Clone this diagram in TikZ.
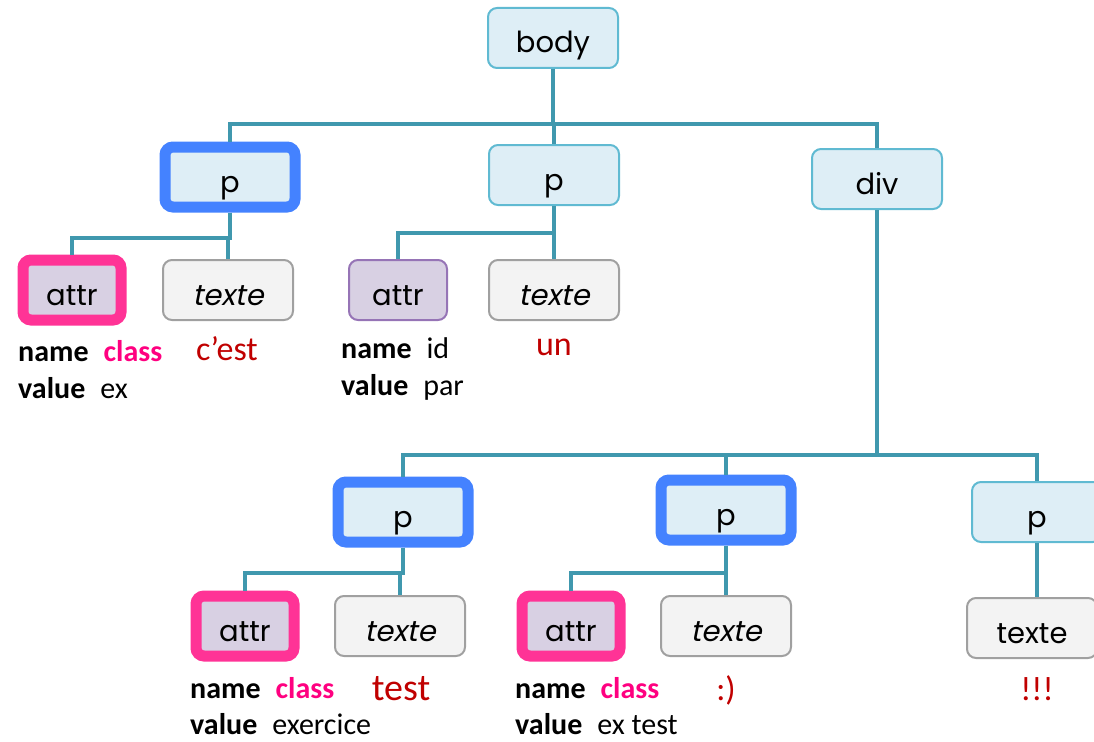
\documentclass[tikz,border=0pt]{standalone}
\usepackage{fontspec}
\usepackage{xcolor}
\setmainfont{Carlito}
\newfontfamily\boxfont{Poppins}[ItalicFont=Poppins,ItalicFeatures={FakeSlant=0.2}]

\definecolor{boxfill}{RGB}{222,238,246}
\definecolor{boxline}{RGB}{96,186,210}
\definecolor{wirecol}{RGB}{64,152,174}
\definecolor{selblue}{RGB}{68,130,255}
\definecolor{selpink}{RGB}{255,51,150}
\definecolor{attrfill}{RGB}{216,208,227}
\definecolor{attrline}{RGB}{150,116,182}
\definecolor{textfill}{RGB}{243,243,243}
\definecolor{textline}{RGB}{160,160,160}
\definecolor{valred}{RGB}{192,0,0}
\definecolor{classpink}{RGB}{255,0,128}

\tikzset{
    elem/.style={draw=boxline, fill=boxfill, line width=2pt, rounded corners=9pt,
        minimum width=130pt, minimum height=60pt, text height=30pt, text depth=0pt,
        font=\boxfont\fontsize{29}{32}\selectfont},
    sel/.style={elem, draw=selblue, line width=11pt, rounded corners=8pt},
    attrbox/.style={elem, draw=attrline, fill=attrfill, minimum width=98pt},
    attrsel/.style={attrbox, draw=selpink, line width=11pt, rounded corners=8pt},
    textbox/.style={elem, draw=textline, fill=textfill},
    wire/.style={draw=wirecol, line width=4pt},
    lbl/.style={anchor=base west, inner sep=0pt, font=\fontsize{30}{34}\selectfont},
    val/.style={anchor=base, inner sep=0pt, text=valred, font=\fontsize{34}{38}\selectfont}
}
\newcommand{\nm}[1]{\textbf{#1}}

\begin{document}
\begin{tikzpicture}[x=1pt, y=-1pt]
\useasboundingbox (0,0) rectangle (1094,741);

% les noeuds de l'arbre
\node[elem] (body) at (553,38) {body};
\node[sel] (p1) at (230,177) {p};
\node[elem] (p2) at (554,175) {p};
\node[elem] (div) at (877,179) {div};
\node[attrsel] (a1) at (72,290) {attr};
\node[textbox] (t1) at (228,290) {\itshape texte};
\node[attrbox] (a2) at (398,290) {attr};
\node[textbox] (t2) at (554,290) {\itshape texte};
\node[sel] (p3) at (403,512) {p};
\node[sel] (p4) at (726,510) {p};
\node[elem] (p5) at (1037,512) {p};
\node[attrsel] (a3) at (245,626) {attr};
\node[textbox] (t3) at (400,626) {\itshape texte};
\node[attrsel] (a4) at (571,626) {attr};
\node[textbox] (t4) at (726,626) {\itshape texte};
\node[textbox] (t5) at (1032,628) {texte};

% les liens
\foreach \kid in {p1,p2,div}
    \draw[wire] (body.south) -- ++(0,55) -| (\kid.north);
\foreach \kid in {a1,t1}
    \draw[wire] (p1.south) -- ++(0,25) -| (\kid.north);
\foreach \kid in {a2,t2}
    \draw[wire] (p2.south) -- ++(0,27) -| (\kid.north);
\foreach \kid in {p3,p4,p5}
    \draw[wire] (div.south) -- ++(0,245) -| (\kid.north);
\foreach \kid in {a3,t3}
    \draw[wire] (p3.south) -- ++(0,25) -| (\kid.north);
\foreach \kid in {a4,t4}
    \draw[wire] (p4.south) -- ++(0,27) -| (\kid.north);
\draw[wire] (p5.south) -- (p5.south |- t5.north);

% attributs et textes
\node[lbl] (n1) at (18,361) {\nm{name}\hspace{15pt}\textcolor{classpink}{\nm{class}}};
\node[lbl] (v1) at (18,398) {\nm{value}\hspace{15pt}ex};
\node[val] (s1) at (227,360) {c’est};
\node[lbl] (n2) at (341,358) {\nm{name}\hspace{15pt}id};
\node[lbl] (v2) at (341,395) {\nm{value}\hspace{15pt}par};
\node[val] (s2) at (554,355) {un};
\node[lbl] (n3) at (190,698) {\nm{name}\hspace{15pt}\textcolor{classpink}{\nm{class}}};
\node[lbl] (v3) at (190,734) {\nm{value}\hspace{15pt}exercice};
\node[val, font=\fontsize{38}{42}\selectfont] (s3) at (401,700) {test};
\node[lbl] (n4) at (515,698) {\nm{name}\hspace{15pt}\textcolor{classpink}{\nm{class}}};
\node[lbl] (v4) at (515,734) {\nm{value}\hspace{15pt}ex test};
\node[val] (s4) at (726,700) {:)};
\node[val] (s5) at (1037,700) {!!!};
\end{tikzpicture}
\end{document}
